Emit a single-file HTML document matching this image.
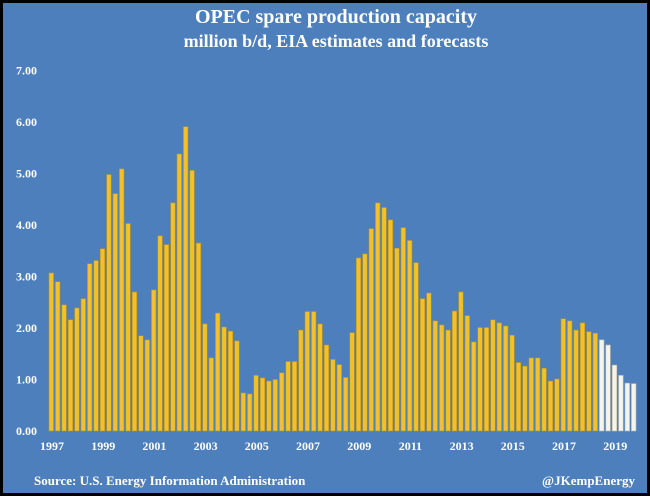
<!DOCTYPE html>
<html><head><meta charset="utf-8"><style>
body{margin:0;background:#000}
svg{display:block}
text{font-family:"Liberation Serif",serif;font-weight:bold;fill:#fff}
</style></head><body>
<svg id="c" width="650" height="496">
<rect x="3" y="3" width="644" height="490" fill="#4c7fbc"/>
<text x="336" y="23" text-anchor="middle" font-size="20">OPEC spare production capacity</text>
<text x="336" y="47" text-anchor="middle" font-size="18">million b/d, EIA estimates and forecasts</text>
<g id="yaxis"></g><g id="bars"></g><g id="xaxis"></g>
<text x="34" y="485" font-size="13">Source: U.S. Energy Information Administration</text>
<text x="635" y="485" text-anchor="end" font-size="13">@JKempEnergy</text>
</svg>
<script>
const values=[3.07,2.90,2.45,2.16,2.39,2.57,3.25,3.31,3.54,4.98,4.61,5.09,4.03,2.70,1.85,1.77,2.74,3.79,3.62,4.43,5.38,5.91,5.06,3.65,2.08,1.42,2.29,2.02,1.94,1.75,0.74,0.72,1.08,1.03,0.97,1.00,1.13,1.35,1.35,1.96,2.32,2.32,2.08,1.67,1.39,1.29,1.04,1.91,3.36,3.44,3.93,4.43,4.34,4.10,3.55,3.95,3.70,3.27,2.57,2.68,2.14,2.06,1.96,2.33,2.70,2.24,1.73,2.01,2.01,2.16,2.10,2.04,1.86,1.33,1.26,1.42,1.42,1.22,0.97,1.01,2.18,2.14,1.96,2.10,1.93,1.90,1.77,1.67,1.28,1.08,0.93,0.92];
const forecastStart=86;
const startYear=1997;
const yTicks=[0,1,2,3,4,5,6,7];
const xLabelYears=[1997,1999,2001,2003,2005,2007,2009,2011,2013,2015,2017,2019];
const NS="http://www.w3.org/2000/svg";
const x0=48,step=6.4,y0=431,ppu=51.5;
const y=v=>y0-v*ppu;
const xq=i=>x0+i*step;
const yax=document.getElementById('yaxis'),bars=document.getElementById('bars'),xax=document.getElementById('xaxis');
yTicks.forEach(t=>{
 const tx=document.createElementNS(NS,'text');
 tx.setAttribute('x',16);tx.setAttribute('y',y(t)+4);tx.setAttribute('font-size',12);
 tx.textContent=t.toFixed(2);
 
 
 yax.appendChild(tx);
});
values.forEach((v,i)=>{
 const r=document.createElementNS(NS,'rect');
 r.setAttribute('x',xq(i)+1);r.setAttribute('width',4.6);
 r.setAttribute('y',y(v));r.setAttribute('height',v*ppu);
 r.setAttribute('fill',i>=forecastStart?'#f6f4ea':'#f2c12a');
 r.setAttribute('stroke',i>=forecastStart?'#b8b8a8':'#b0902a');r.setAttribute('stroke-width',0.6);
 
 
 bars.appendChild(r);
});
xLabelYears.forEach(yr=>{
 const tx=document.createElementNS(NS,'text');
 tx.setAttribute('x',xq((yr-startYear)*4)+4);tx.setAttribute('y',450);
 tx.setAttribute('text-anchor','middle');tx.setAttribute('font-size',12);
 tx.textContent=yr;
 
 
 xax.appendChild(tx);
});
</script>
</body></html>
